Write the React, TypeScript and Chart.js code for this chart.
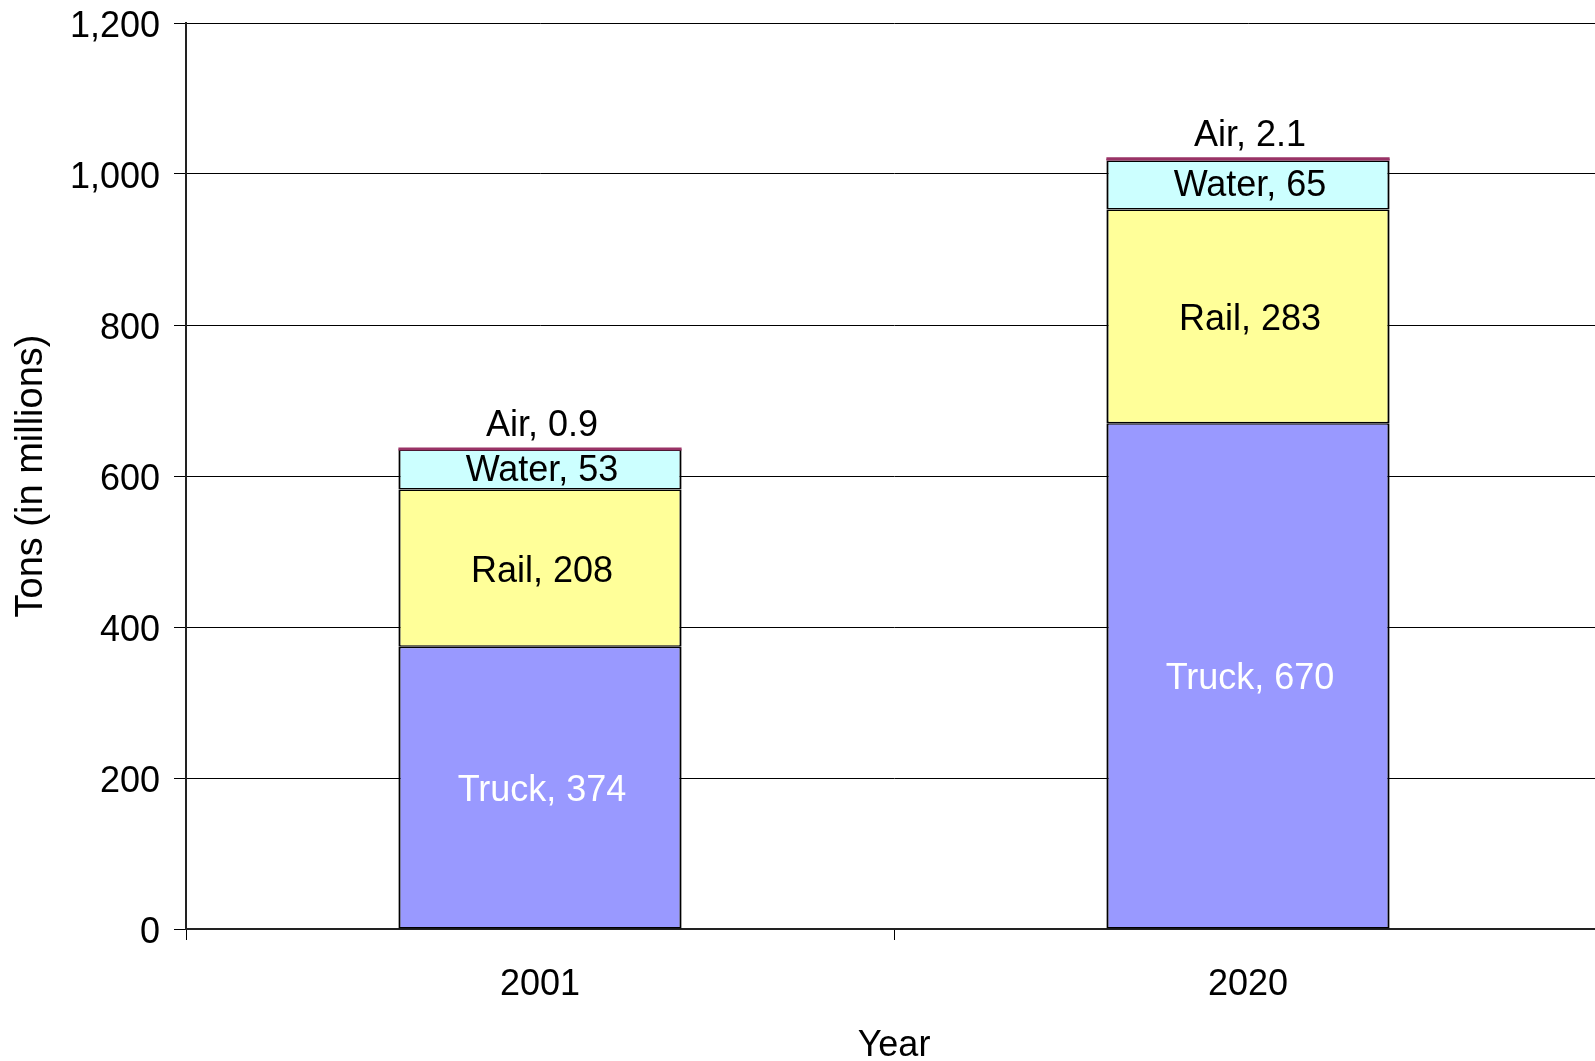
import React, { useEffect, useRef } from "react";
import { Chart, registerables } from "chart.js";

Chart.register(...registerables);

const categories = ["2001", "2020"];
const truck = [374, 670];
const rail = [208, 283];
const water = [53, 65];
const air = [0.9, 2.1];
const yTicks = [0, 200, 400, 600, 800, 1000, 1200];

const FONT = "'Liberation Sans', Arial, Helvetica, sans-serif";

const labelPlugin = {
  id: "segLabels",
  afterDatasetsDraw(chart: any) {
    const ctx = chart.ctx;
    ctx.save();
    ctx.font = `36px ${FONT}`;
    ctx.textAlign = "center";
    chart.data.datasets.forEach((ds: any, di: number) => {
      const meta = chart.getDatasetMeta(di);
      meta.data.forEach((el: any, i: number) => {
        const { x, y, base, width } = el.getProps(["x", "y", "base", "width"], true);
        const v = ds.data[i];
        const text = `${ds.label}, ${v}`;
        if (ds.label === "Air") {
          ctx.strokeStyle = "#993366";
          ctx.lineWidth = 3;
          ctx.beginPath();
          ctx.moveTo(x - width / 2, y);
          ctx.lineTo(x + width / 2, y);
          ctx.stroke();
          ctx.fillStyle = "#000";
          ctx.textBaseline = "alphabetic";
          ctx.fillText(text, x + 2, y - 13);
        } else {
          ctx.fillStyle = ds.label === "Truck" ? "#ffffff" : "#000000";
          ctx.textBaseline = "middle";
          const extra = ds.label === "Water" ? 1.5 : 3.5;
          ctx.fillText(text, x + 2, (y + base) / 2 + extra);
        }
      });
    });
    ctx.restore();
  },
};

export default function App() {
  const ref = useRef<HTMLCanvasElement | null>(null);

  useEffect(() => {
    if (!ref.current) return;
    Chart.defaults.font.family = FONT;
    Chart.defaults.font.size = 36;
    Chart.defaults.color = "#000";
    const border = { top: 1.5, bottom: 1.5, left: 2.2, right: 2.2 };
    const chart = new Chart(ref.current, {
      type: "bar",
      data: {
        labels: categories,
        datasets: [
          { label: "Truck", data: truck, backgroundColor: "#9999FF", borderColor: "#000", borderWidth: border, borderSkipped: false },
          { label: "Rail", data: rail, backgroundColor: "#FFFF99", borderColor: "#000", borderWidth: border, borderSkipped: false },
          { label: "Water", data: water, backgroundColor: "#CCFFFF", borderColor: "#000", borderWidth: border, borderSkipped: false },
          { label: "Air", data: air, backgroundColor: "#993366", borderColor: "#993366", borderWidth: 0 },
        ],
      },
      options: {
        responsive: false,
        animation: false,
        devicePixelRatio: 1,
        layout: { padding: { top: 23, left: 0, right: 0, bottom: 0 } },
        plugins: {
          legend: { display: false },
          tooltip: { enabled: false },
        },
        datasets: { bar: { barPercentage: 0.4, categoryPercentage: 1 } },
        scales: {
          x: {
            stacked: true,
            grid: { display: true, drawOnChartArea: false, drawTicks: true, tickLength: 11, color: "#000", lineWidth: 1, offset: true },
            border: { display: true, color: "#222", width: 2 },
            ticks: { padding: 23, font: { size: 36 }, color: "#000" },
            title: { display: true, text: "Year", font: { size: 36, lineHeight: 0.84 }, padding: 0, color: "#000" },
            afterFit: (s: any) => { s.height = 132; },
          },
          y: {
            stacked: true,
            min: 0,
            max: 1200,
            afterBuildTicks: (s: any) => { s.ticks = yTicks.map((v) => ({ value: v })); },
            grid: { display: true, drawTicks: true, tickLength: 12, color: "#000", lineWidth: 1 },
            border: { display: true, color: "#222", width: 2 },
            ticks: {
              padding: 14,
              font: { size: 36, lineHeight: 0.2 },
              color: "#000",
              callback: (v: any) => ["", Number(v).toLocaleString("en-US")],
            },
            title: { display: true, text: "Tons (in millions)", font: { size: 38, lineHeight: 1 }, padding: { top: 13, bottom: 0 }, color: "#000" },
            afterFit: (s: any) => { s.width = 186; },
          },
        },
      },
      plugins: [labelPlugin],
    });
    return () => chart.destroy();
  }, []);

  return (
    <div style={{ position: "absolute", left: 0, top: 0, width: 1595, height: 1061, overflow: "hidden", background: "#fff" }}>
      <canvas ref={ref} width={1602} height={1061} style={{ display: "block" }} />
    </div>
  );
}
